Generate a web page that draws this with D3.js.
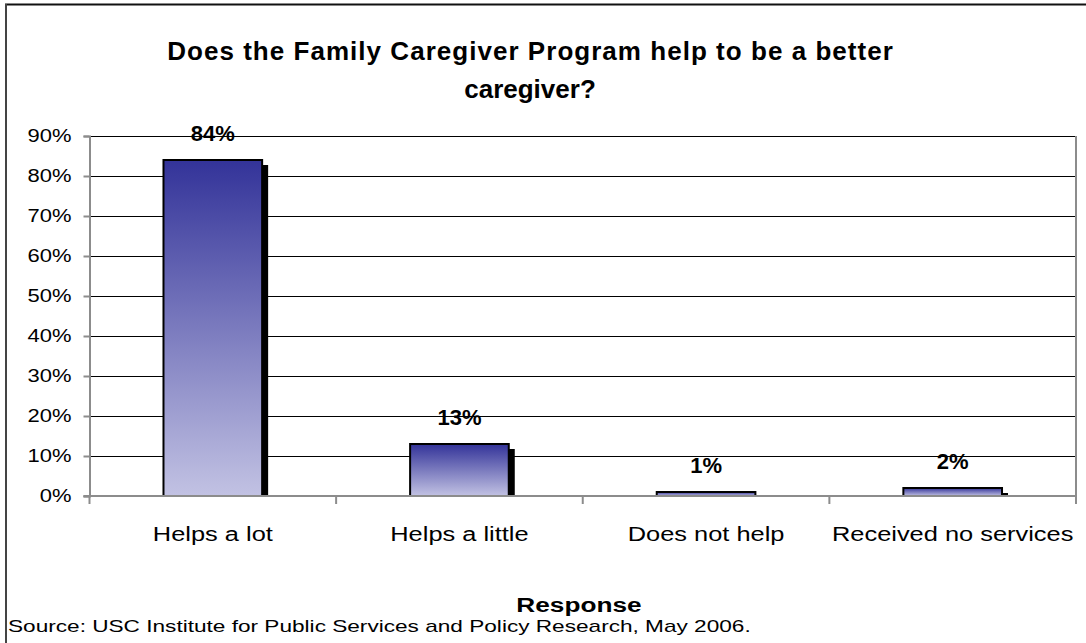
<!DOCTYPE html>
<html>
<head>
<meta charset="utf-8">
<script src="https://cdn.jsdelivr.net/npm/d3@7"></script>
<style>
  html, body { margin: 0; padding: 0; background: #fff; }
  svg { display: block; font-family: "Liberation Sans", Arial, sans-serif; }
</style>
</head>
<body>
<svg id="chart" width="1086" height="643"></svg>
<script>
// Survey responses (share of caregivers)
const categories = ["Helps a lot", "Helps a little", "Does not help", "Received no services"];
const values = [84, 13, 1, 2];
const yTicks = [0, 10, 20, 30, 40, 50, 60, 70, 80, 90];
const titleLines = ["Does the Family Caregiver Program help to be a better", "caregiver?"];
const xTitle = "Response";
const sourceNote = "Source: USC Institute for Public Services and Policy Research, May 2006.";

const svg = d3.select("#chart");
const W = 1086, H = 643;
const plot = { left: 89.5, right: 1076, top: 136, bottom: 496 };

// Widen a text run horizontally by a factor (the chart uses a wide text setting)
function widen(sel, factor, adjust) {
  sel.each(function () {
    const len = this.getComputedTextLength();
    d3.select(this).attr("textLength", len * factor)
      .attr("lengthAdjust", adjust || "spacingAndGlyphs");
  });
}

// Outer chart frame (top and left edges visible)
svg.append("line").attr("x1", 5).attr("x2", W).attr("y1", 4.5).attr("y2", 4.5)
  .attr("stroke", "#111").attr("stroke-width", 2);
svg.append("line").attr("x1", 6).attr("x2", 6).attr("y1", 4).attr("y2", H)
  .attr("stroke", "#444").attr("stroke-width", 2);

// Title
const title = svg.append("g").selectAll("text").data(titleLines).join("text")
  .attr("x", 530).attr("y", (d, i) => 60 + i * 38)
  .attr("text-anchor", "middle")
  .attr("font-size", 26).attr("font-weight", "bold").attr("fill", "#000")
  .text(d => d);
widen(title.filter((d, i) => i === 0), 1.08, "spacing");

const x = d3.scaleBand().domain(categories)
  .range([plot.left, plot.right]).paddingInner(0.6).paddingOuter(0.3);
const y = d3.scaleLinear().domain([0, 90]).range([plot.bottom, plot.top]);

// Horizontal gridlines
svg.append("g").selectAll("line").data(yTicks.filter(t => t > 0)).join("line")
  .attr("x1", plot.left).attr("x2", plot.right)
  .attr("y1", d => Math.round(y(d)) + 0.5).attr("y2", d => Math.round(y(d)) + 0.5)
  .attr("stroke", "#000").attr("stroke-width", 1);

// Right edge of the plot area
svg.append("line").attr("x1", plot.right).attr("x2", plot.right)
  .attr("y1", plot.top).attr("y2", plot.bottom + 8)
  .attr("stroke", "#8c8c8c").attr("stroke-width", 2);

// Bar gradient: deep blue at top fading to pale lavender
const defs = svg.append("defs");
const grad = defs.append("linearGradient").attr("id", "barFill")
  .attr("x1", 0).attr("y1", 0).attr("x2", 0).attr("y2", 1);
grad.append("stop").attr("offset", "0%").attr("stop-color", "#333399");
grad.append("stop").attr("offset", "100%").attr("stop-color", "#c2c2e3");

const bars = svg.append("g");
const shadowOffX = 6, shadowOffY = 5;

// Drop shadows, clipped at the baseline
bars.selectAll("rect.shadow").data(values).join("rect")
  .attr("class", "shadow")
  .attr("x", (d, i) => x(categories[i]) + shadowOffX)
  .attr("y", d => y(d) + shadowOffY)
  .attr("width", x.bandwidth())
  .attr("height", d => Math.max(0, plot.bottom - y(d) - shadowOffY))
  .attr("fill", "#000");

bars.selectAll("rect.bar").data(values).join("rect")
  .attr("class", "bar")
  .attr("x", (d, i) => x(categories[i]))
  .attr("y", d => y(d))
  .attr("width", x.bandwidth())
  .attr("height", d => plot.bottom - y(d))
  .attr("fill", "url(#barFill)")
  .attr("stroke", "#000").attr("stroke-width", 2);

// Value labels
svg.append("g").selectAll("text").data(values).join("text")
  .attr("x", (d, i) => x(categories[i]) + x.bandwidth() / 2)
  .attr("y", d => y(d) - 19.5)
  .attr("text-anchor", "middle")
  .attr("font-size", 22).attr("font-weight", "bold")
  .text(d => d + "%");

// Y axis
const yAxis = d3.axisLeft(y).tickValues(yTicks).tickFormat(d => d + "%")
  .tickSize(6).tickPadding(12);
const gy = svg.append("g").attr("transform", `translate(${plot.left},0)`).call(yAxis);
gy.select(".domain").attr("stroke", "#8c8c8c").attr("stroke-width", 2);
gy.selectAll(".tick line").attr("stroke", "#8c8c8c").attr("stroke-width", 2);
const yLabels = gy.selectAll(".tick text").attr("font-size", 18).attr("fill", "#000")
  .attr("font-family", "'Liberation Sans', Arial, sans-serif");
widen(yLabels, 1.22);

// X axis: baseline, boundary ticks between categories, category labels
svg.append("line").attr("x1", plot.left - 6).attr("x2", plot.right)
  .attr("y1", plot.bottom).attr("y2", plot.bottom)
  .attr("stroke", "#8c8c8c").attr("stroke-width", 2);
const boundaries = categories.map(c => x(c) - x.step() * x.paddingOuter());
svg.append("g").selectAll("line").data(boundaries).join("line")
  .attr("x1", d => d).attr("x2", d => d)
  .attr("y1", plot.bottom).attr("y2", plot.bottom + 8)
  .attr("stroke", "#8c8c8c").attr("stroke-width", 2);

const xAxis = d3.axisBottom(x).tickSize(0).tickPadding(31);
const gx = svg.append("g").attr("transform", `translate(0,${plot.bottom})`).call(xAxis);
gx.select(".domain").remove();
const xLabels = gx.selectAll(".tick text").attr("font-size", 20).attr("fill", "#000")
  .attr("font-family", "'Liberation Sans', Arial, sans-serif");
widen(xLabels, 1.27);

// Axis title
const xt = svg.append("text").attr("x", 579).attr("y", 612)
  .attr("text-anchor", "middle").attr("font-size", 20).attr("font-weight", "bold")
  .text(xTitle);
widen(xt, 1.31);

// Source note
const src = svg.append("text").attr("x", 8).attr("y", 632)
  .attr("font-size", 17).text(sourceNote);
widen(src, 1.33);
</script>
</body>
</html>
